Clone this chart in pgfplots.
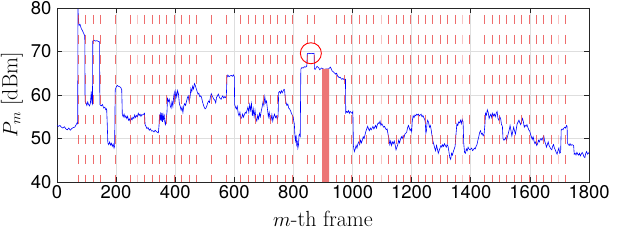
\documentclass[border=0pt]{standalone}
\usepackage{pgfplots}
\pgfplotsset{compat=1.18}
\usepackage{fontspec}
\newfontfamily\heros{TeX Gyre Heros}
\definecolor{axgray}{RGB}{38,38,38}
\definecolor{gridgray}{RGB}{222,222,222}
\definecolor{dashred}{RGB}{232,60,60}
\definecolor{bandred}{RGB}{236,118,118}
\begin{document}
\begin{tikzpicture}
\path[use as bounding box] (0,0) rectangle (640bp,247bp);
\begin{axis}[
  at={(57bp,65bp)}, anchor=south west,
  scale only axis, width=532bp, height=174bp,
  xmin=0, xmax=1800, ymin=40, ymax=80,
  xtick={0,200,...,1800}, ytick={40,50,...,80},
  /pgf/number format/assume math mode=true,
  /pgf/number format/1000 sep={},
  tick label style={font=\heros\fontsize{18.5}{18.5}\selectfont, text=black},
  yticklabel style={xshift=-2bp},
  tick align=inside, major tick length=5bp,
  axis line style={axgray, line width=0.6bp},
  every tick/.style={axgray, line width=0.6bp},
  grid=major, major grid style={gridgray, line width=0.6bp},
  xlabel={$m$-th frame},
  ylabel={$P_m$ [dBm]},
  xlabel style={font=\fontsize{22}{22}\selectfont, at={(axis description cs:0.5,-0.253)}, anchor=base},
  ylabel style={font=\fontsize{22}{22}\selectfont, at={(axis description cs:-0.085,0.5)}, anchor=center},
  clip=true,
]
% blue measured power
\addplot[blue, line width=0.6bp] coordinates {
(0,53) (5,52.8) (10,53.0) (15,52.6) (20,52.4) (25,52.7) (30,52.2) (35,52.0) (40,52.4) (45,51.9)
(50,52.3) (55,52.5) (60,52.6) (65,53.2) (68,53.6) (70,53.4) (71,79.8) (73,77) (75,76) (78,76.2)
(82,75.3) (86,74.8) (90,74.2) (94,73.6) (95,58.5) (98,58.2) (101,57.6) (104,58.4) (107,57.8) (110,57.5)
(113,58.1) (116,60.8) (118,58.4) (120,58.0) (121,72.4) (125,72.6) (130,72.4) (135,72.5) (140,72.3) (144,72.2)
(145,57.8) (150,57.5) (154,57.8) (158,57.0) (162,57.2) (165,56.6) (168,56.8) (170,53.4) (172,49.0) (175,48.6)
(178,49.2) (181,48.5) (184,48.9) (187,48.2) (190,48.7) (193,47.8) (195,48.3) (197,61.2) (200,61.8) (204,62.2)
(208,62.0) (212,61.9) (216,61.7) (219,61.2) (221,55.5) (224,55.0) (227,55.6) (230,54.8) (233,55.2) (236,54.6)
(239,55.1) (242,54.2) (245,54.5) (248,53.9) (251,54.7) (254,54.3) (257,54.9) (260,54.6) (263,55.4) (266,54.8)
(269,55.3) (272,55.0) (275,55.8) (278,55.3) (281,55.6) (284,55.1) (287,55.5) (290,55.4) (293,55.6) (296,55.8)
(298,53.2) (301,52.8) (304,52.3) (308,52.5) (312,51.9) (316,52.2) (320,51.7) (324,51.8) (328,51.5) (332,51.9)
(336,51.6) (340,51.4) (343,51.3) (345,52.8) (347,55.5) (349,54.2) (351,56.0) (353,54.0) (355,55.8) (357,53.8)
(359,55.4) (361,54.5) (363,55.2) (365,53.6) (367,53.2) (369,54.2) (372,56.0) (374,59.2) (377,58.5) (380,59.0)
(383,57.6) (386,57.0) (389,58.5) (392,57.4) (395,59.8) (397,60.5) (399,58.4) (402,60.8) (405,59.6) (408,61.0)
(411,60.2) (414,58.0) (417,57.4) (420,56.5) (423,57.2) (426,56.0) (429,57.5) (432,58.0) (435,57.6) (438,58.5)
(441,59.3) (444,59.8) (447,58.5) (450,59.4) (453,61.5) (456,60.8) (459,62.0) (462,61.4) (465,62.6) (468,62.2)
(471,61.5) (474,60.8) (477,60.2) (480,60.4) (483,59.6) (486,59.8) (489,59.5) (492,58.5) (495,57.8) (498,57.2)
(501,56.8) (504,57.0) (507,57.5) (510,58.2) (513,58.6) (516,58.3) (519,59.5) (522,60.3) (525,59.8) (528,59.4)
(531,59.0) (534,58.8) (537,58.2) (540,59.5) (543,59.8) (546,60.2) (549,59.6) (552,59.2) (555,59.0) (558,59.5)
(561,59.8) (564,59.3) (567,59.6) (570,59.4) (573,59.8) (575,64.0) (578,64.6) (582,64.2) (586,64.4) (590,64.5)
(594,64.3) (597,64.6) (600,64.2) (601,57.8) (604,57.2) (607,56.8) (610,57.4) (613,55.8) (616,55.2) (619,56.0)
(622,54.6) (625,54.8) (628,55.6) (631,54.9) (634,55.5) (637,56.0) (640,55.8) (643,56.5) (646,57.2) (649,56.0)
(652,57.8) (655,56.5) (658,58.0) (661,55.2) (664,56.8) (667,55.0) (670,56.5) (673,54.6) (676,54.0) (679,55.3)
(682,54.5) (685,55.8) (688,55.0) (691,56.3) (694,57.2) (697,58.4) (700,57.6) (703,59.6) (706,58.2) (709,58.6)
(712,56.8) (715,55.0) (718,56.0) (721,54.5) (724,54.2) (727,55.5) (730,54.0) (733,55.0) (736,55.6) (739,54.8)
(742,55.2) (745,54.5) (748,55.0) (750,60.6) (753,60.8) (756,60.4) (759,61.0) (762,60.5) (765,60.9) (768,61.3)
(770,61.2) (772,59.5) (775,58.2) (778,57.6) (781,57.9) (784,57.0) (787,56.8) (790,56.4) (793,55.8) (796,55.4)
(799,55.0) (801,54.0) (803,53.4) (805,50.5) (807,49.5) (809,50.8) (811,48.6) (813,49.2) (815,47.8) (817,48.5)
(819,50.8) (821,51.0) (823,50.6) (825,66.0) (829,66.3) (833,66.2) (837,66.5) (841,66.4) (845,66.6) (847,69.5)
(852,69.6) (857,69.5) (862,69.6) (867,69.5) (870,69.6) (871,66.0) (874,65.9) (877,66.3) (880,66.6) (883,66.4)
(886,66.2) (889,65.8) (892,66.0) (895,66.2) (898,66.1) (901,66.0) (904,65.9) (907,65.9) (910,66.0) (913,66.0)
(916,66.0) (919,66.0) (922,66.2) (925,66.4) (928,66.0) (931,65.5) (934,65.4) (937,65.2) (940,65.0) (943,64.8)
(946,65.0) (949,64.4) (952,64.2) (955,64.0) (958,64.1) (961,63.8) (964,63.6) (967,63.8) (970,63.6) (973,63.5)
(976,63.6) (977,55.9) (980,56.2) (983,56.0) (986,56.4) (989,55.8) (992,56.2) (995,56.0) (998,55.8) (1001,56.2)
(1003,48.2) (1006,47.0) (1009,47.6) (1012,48.4) (1015,47.8) (1018,48.8) (1021,49.2) (1024,48.6) (1027,49.6) (1030,49.0)
(1033,49.6) (1036,50.4) (1039,50.0) (1042,50.8) (1045,51.6) (1048,52.2) (1051,52.8) (1054,52.2) (1057,51.8) (1060,52.4)
(1063,52.0) (1066,52.4) (1069,52.8) (1072,52.2) (1075,52.6) (1078,53.0) (1081,52.4) (1084,53.2) (1087,53.6) (1090,53.4)
(1093,54.0) (1096,53.0) (1099,53.4) (1102,53.0) (1105,52.6) (1108,52.8) (1111,52.4) (1114,52.0) (1117,52.2) (1120,51.0)
(1123,50.0) (1126,48.6) (1129,49.4) (1132,48.4) (1135,49.2) (1138,48.8) (1141,49.4) (1144,48.6) (1147,47.4) (1150,48.0)
(1153,48.6) (1156,49.6) (1159,49.0) (1162,49.8) (1165,50.4) (1168,50.0) (1171,50.6) (1174,50.2) (1177,51.0) (1180,51.2)
(1183,51.4) (1186,52.4) (1189,53.0) (1192,52.4) (1195,51.8) (1198,52.2) (1200,51.6) (1202,54.0) (1205,55.2) (1208,54.8)
(1211,55.4) (1214,55.2) (1217,55.6) (1220,55.4) (1223,55.6) (1226,55.2) (1229,55.4) (1232,55.6) (1235,55.0) (1238,55.3)
(1241,54.8) (1244,54.4) (1246,53.8) (1248,51.2) (1250,51.8) (1252,53.6) (1254,54.2) (1257,53.8) (1260,52.6) (1263,53.0)
(1266,52.0) (1269,50.6) (1272,49.4) (1275,48.6) (1278,47.8) (1281,47.2) (1284,48.4) (1287,47.6) (1290,46.6) (1293,47.2)
(1296,47.8) (1299,48.4) (1302,48.0) (1305,48.6) (1308,48.2) (1311,48.8) (1314,48.4) (1317,48.0) (1320,48.6) (1323,48.2)
(1326,47.0) (1329,45.6) (1332,45.2) (1335,46.6) (1338,46.2) (1341,47.0) (1344,47.6) (1347,48.2) (1350,51.0) (1353,53.4)
(1356,53.0) (1359,53.8) (1362,53.6) (1365,54.2) (1368,53.4) (1371,54.4) (1374,53.8) (1376,49.0) (1379,46.8) (1382,46.6)
(1385,47.6) (1388,47.2) (1391,48.0) (1394,47.6) (1397,47.4) (1400,47.6) (1403,47.8) (1406,47.2) (1409,47.4) (1412,47.8)
(1415,47.6) (1418,48.2) (1421,48.6) (1424,49.6) (1427,50.4) (1430,51.4) (1433,51.8) (1436,51.0) (1439,51.2) (1442,50.6)
(1445,51.0) (1448,53.4) (1450,55.8) (1453,55.4) (1456,56.6) (1459,56.0) (1462,54.6) (1465,55.2) (1468,55.6) (1471,54.8)
(1474,55.8) (1477,55.2) (1480,55.6) (1483,55.0) (1486,55.8) (1489,56.2) (1492,54.6) (1495,54.2) (1498,55.0) (1501,54.6)
(1504,53.2) (1507,52.8) (1509,50.0) (1512,49.6) (1515,49.8) (1518,50.2) (1521,49.6) (1524,50.4) (1527,51.2) (1530,52.0)
(1533,53.0) (1536,51.8) (1539,50.6) (1542,51.6) (1545,52.6) (1548,51.8) (1551,51.0) (1554,52.2) (1557,53.4) (1560,53.8)
(1563,54.2) (1566,53.6) (1569,53.2) (1572,54.0) (1575,54.6) (1578,53.8) (1581,52.6) (1584,53.0) (1587,52.8) (1590,53.2)
(1593,52.6) (1596,52.0) (1599,51.8) (1602,51.0) (1605,50.4) (1608,49.8) (1611,50.4) (1614,49.4) (1617,48.8) (1620,49.2)
(1623,48.4) (1626,48.8) (1629,49.6) (1632,49.2) (1635,49.8) (1638,50.0) (1641,49.6) (1644,50.2) (1647,50.6) (1650,49.4)
(1653,48.8) (1656,48.0) (1659,48.6) (1662,49.2) (1665,48.4) (1668,48.0) (1671,47.6) (1674,47.4) (1677,48.2) (1680,48.6)
(1683,47.8) (1686,47.4) (1689,46.8) (1692,46.4) (1695,47.2) (1698,47.8) (1701,46.6) (1704,46.8) (1706,52.0) (1709,52.2)
(1712,52.0) (1715,52.4) (1718,52.6) (1721,52.4) (1724,53.0) (1726,52.8) (1727,49.0) (1730,48.6) (1733,48.4) (1736,48.8)
(1739,48.4) (1742,48.6) (1745,48.5) (1748,48.4) (1750,46.4) (1753,46.6) (1756,46.2) (1759,46.8) (1762,46.4) (1765,46.2)
(1768,46.6) (1771,46.0) (1774,46.4) (1777,46.8) (1780,46.4) (1783,45.8) (1786,45.6) (1789,46.6) (1792,47.0) (1795,46.4)
(1798,46.6) (1800,46.8)
};
% shaded frame band
\addplot[fill=bandred, draw=none] coordinates {(897,40) (897,66) (921,66) (921,40)} \closedcycle;
% red dashed frame markers
\pgfplotsinvokeforeach{72,97,122,147,197,247,297,322,347,372,397,422,447,472,522,572,622,647,672,697,722,747,772,797,847,872,947,972,997,1022,1047,1072,1122,1147,1172,1197,1222,1247,1272,1297,1322,1347,1397,1447,1472,1497,1522,1547,1572,1597,1622,1647,1672,1722}{
  \addplot[dashred, opacity=0.75, line width=1bp, dash pattern=on 9bp off 11bp, dash phase=13bp] coordinates {(#1,80) (#1,40)};
}
\pgfplotsinvokeforeach{272,1097,1372,1697}{
  \addplot[dashred, opacity=0.3, line width=1bp, dash pattern=on 9bp off 11bp, dash phase=13bp] coordinates {(#1,80) (#1,40)};
}
% circle marker
\addplot[only marks, mark=o, mark size=10.5bp, mark options={draw=red, line width=0.9bp}] coordinates {(859,69.6)};
\end{axis}
\end{tikzpicture}
\end{document}
